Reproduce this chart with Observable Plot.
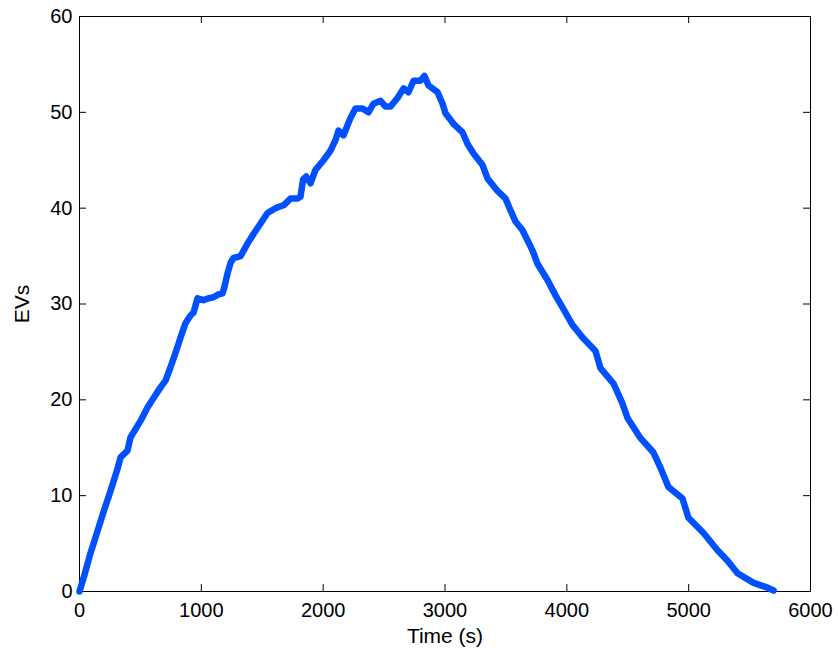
<!DOCTYPE html>
<html>
<head>
<meta charset="utf-8">
<script src="https://cdn.jsdelivr.net/npm/d3@7"></script>
<script src="https://cdn.jsdelivr.net/npm/@observablehq/plot@0.6"></script>
<style>
  html, body { margin: 0; padding: 0; background: white; }
  #chart { width: 838px; height: 654px; }
</style>
</head>
<body>
<div id="chart"></div>
<script>
const times = [0, 40, 90, 150, 197, 255, 312, 337, 394, 419, 501, 558, 608, 665, 706, 747, 804, 829, 870, 911, 936, 969, 1018, 1060, 1100, 1140, 1174, 1190, 1215, 1240, 1264, 1322, 1379, 1428, 1486, 1543, 1609, 1675, 1732, 1789, 1814, 1835, 1860, 1896, 1937, 2003, 2060, 2101, 2126, 2167, 2224, 2265, 2323, 2372, 2413, 2471, 2512, 2553, 2610, 2660, 2700, 2742, 2799, 2832, 2865, 2939, 2980, 3004, 3070, 3144, 3185, 3234, 3308, 3349, 3431, 3497, 3530, 3579, 3636, 3718, 3759, 3841, 3907, 3989, 4047, 4129, 4235, 4276, 4383, 4457, 4498, 4605, 4711, 4769, 4834, 4949, 4998, 5122, 5237, 5319, 5401, 5533, 5647, 5697];
const evs = [0, 1.7, 4.0, 6.4, 8.3, 10.5, 12.8, 14.0, 14.7, 16.1, 17.8, 19.2, 20.2, 21.3, 22.0, 23.4, 25.5, 26.5, 28.0, 28.8, 29.1, 30.6, 30.4, 30.6, 30.7, 31.0, 31.1, 31.8, 33.2, 34.3, 34.8, 35.0, 36.3, 37.3, 38.4, 39.5, 40.0, 40.3, 41.0, 41.0, 41.2, 43.0, 43.3, 42.6, 44.0, 45.0, 46.0, 47.1, 48.1, 47.6, 49.4, 50.4, 50.4, 50.0, 50.9, 51.2, 50.6, 50.6, 51.5, 52.5, 52.1, 53.3, 53.3, 53.8, 52.8, 52.1, 50.9, 49.9, 48.8, 47.9, 46.7, 45.7, 44.5, 43.1, 41.8, 41.0, 40.0, 38.6, 37.7, 35.6, 34.2, 32.5, 30.9, 29.1, 27.8, 26.5, 25.1, 23.3, 21.7, 19.6, 18.1, 16.0, 14.5, 12.9, 10.9, 9.7, 7.7, 6.1, 4.3, 3.2, 1.9, 0.9, 0.4, 0.1];
const xTicks = [0, 1000, 2000, 3000, 4000, 5000, 6000];
const yTicks = [0, 10, 20, 30, 40, 50, 60];

const data = times.map((t, i) => ({t, v: evs[i]}));

const W = 838, H = 654, mL = 79, mR = 28, mT = 16, mB = 63;
const plotW = W - mL - mR, plotH = H - mT - mB, tick = 7;

const chart = Plot.plot({
  width: W, height: H,
  marginLeft: mL, marginRight: mR, marginTop: mT, marginBottom: mB,
  style: {fontFamily: "'Liberation Sans', Arial, Helvetica, sans-serif", fontSize: "20px", color: "black", background: "white"},
  x: {domain: [0, 6000], ticks: xTicks, tickFormat: d => String(d)},
  y: {domain: [0, 60], ticks: yTicks, tickFormat: d => String(d)},
  marks: [
    Plot.frame({stroke: "black", strokeWidth: 1}),
    Plot.tickX(xTicks, {x: d => d, insetTop: plotH - tick, stroke: "black"}),
    Plot.tickX(xTicks, {x: d => d, insetBottom: plotH - tick, stroke: "black"}),
    Plot.tickY(yTicks, {y: d => d, insetRight: plotW - tick, stroke: "black"}),
    Plot.tickY(yTicks, {y: d => d, insetLeft: plotW - tick, stroke: "black"}),
    Plot.axisX(xTicks, {tickSize: 0, tickPadding: 11, tickFormat: d => String(d), label: null, fontSize: 20}),
    Plot.axisX({label: "Time (s)", labelAnchor: "center", labelArrow: "none", labelOffset: 51, fontSize: 21, tickSize: 0, tickFormat: () => ""}),
    Plot.axisY(yTicks, {tickSize: 0, tickPadding: 7, tickFormat: d => String(d), label: null, fontSize: 20}),
    Plot.axisY({label: "EVs", labelAnchor: "center", labelArrow: "none", labelOffset: 65, fontSize: 21, tickSize: 0, tickFormat: () => ""}),
    Plot.line(data, {x: "t", y: "v", stroke: "#0050ff", strokeWidth: 6.5, strokeLinejoin: "round", strokeLinecap: "round"})
  ]
});
document.getElementById("chart").appendChild(chart);
</script>
</body>
</html>
